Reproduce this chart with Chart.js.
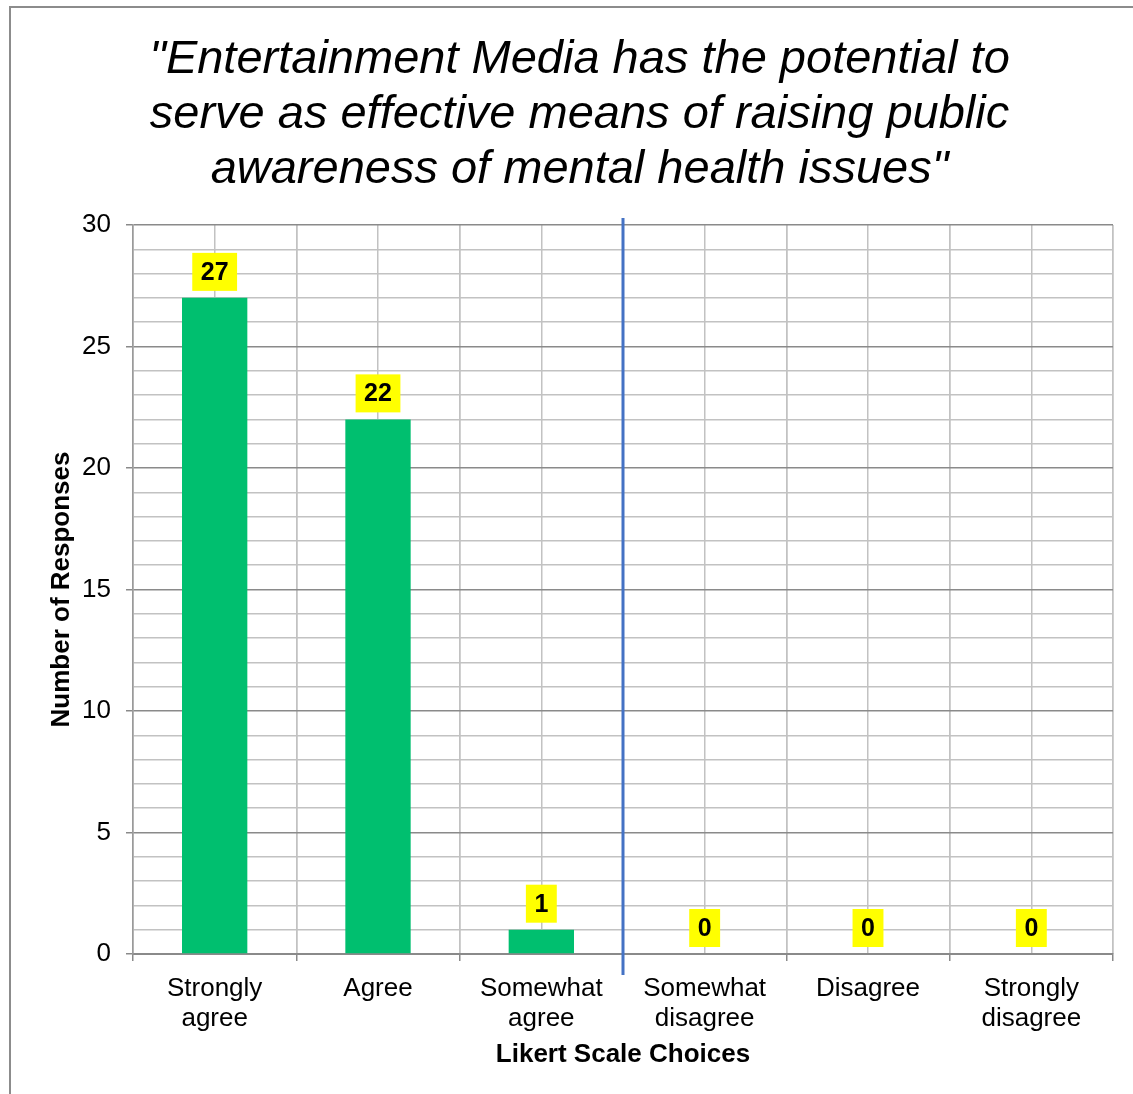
<!DOCTYPE html>
<html>
<head>
<meta charset="utf-8">
<script src="https://cdn.jsdelivr.net/npm/chart.js@4/dist/chart.umd.min.js"></script>
<style>
  html, body { margin: 0; padding: 0; background: #fff; overflow: hidden; }
  #frame { position: absolute; left: 9px; top: 6px; width: 1200px; height: 1200px; border: 2px solid #8c8c8c; box-sizing: border-box; }
  #wrap { position: absolute; left: 0; top: 0; width: 1133px; height: 1094px; }
</style>
</head>
<body>
<div id="frame"></div>
<div id="wrap"><canvas id="chart"></canvas></div>
<script>
'use strict';

const titleLines = ['"Entertainment Media has the potential to', 'serve as effective means of raising public', 'awareness of mental health issues"'];
const categories = [['Strongly', 'agree'], 'Agree', ['Somewhat', 'agree'], ['Somewhat', 'disagree'], 'Disagree', ['Strongly', 'disagree']];
const responses = [27, 22, 1, 0, 0, 0];
const yTicks = [0, 5, 10, 15, 20, 25, 30];

const FONT = '"Liberation Sans", Arial, sans-serif';
const MAJOR = '#8a8a8a';
const MINOR = '#c2c2c2';

// yellow value boxes above each bar
const valueBoxes = {
  id: 'valueBoxes',
  afterDatasetsDraw(chart) {
    const ctx = chart.ctx;
    const meta = chart.getDatasetMeta(0);
    ctx.save();
    ctx.font = 'bold 25px ' + FONT;
    ctx.textAlign = 'center';
    ctx.textBaseline = 'middle';
    meta.data.forEach((bar, i) => {
      const txt = String(responses[i]);
      const w = ctx.measureText(txt).width + 17;
      const h = 38;
      const bottom = bar.y - 7;
      ctx.fillStyle = '#ffff00';
      ctx.fillRect(bar.x - w / 2, bottom - h, w, h);
      ctx.fillStyle = '#000';
      ctx.fillText(txt, bar.x, bottom - h / 2 + 1);
    });
    ctx.restore();
  }
};

// blue divider between agree and disagree halves
const divider = {
  id: 'divider',
  afterDatasetsDraw(chart) {
    const xs = chart.scales.x;
    const area = chart.chartArea;
    const x = (xs.getPixelForValue(2) + xs.getPixelForValue(3)) / 2;
    const ctx = chart.ctx;
    ctx.save();
    ctx.strokeStyle = '#4472c4';
    ctx.lineWidth = 3;
    ctx.beginPath();
    ctx.moveTo(x, area.top - 7);
    ctx.lineTo(x, area.bottom + 21);
    ctx.stroke();
    ctx.restore();
  }
};

new Chart(document.getElementById('chart'), {
  type: 'bar',
  data: {
    labels: categories,
    datasets: [{
      data: responses,
      backgroundColor: '#00bf6f',
      barPercentage: 0.8,
      categoryPercentage: 0.5,
      xAxisID: 'x',
      yAxisID: 'y'
    }]
  },
  options: {
    responsive: true,
    maintainAspectRatio: false,
    animation: false,
    layout: { padding: { left: 46, right: 20, top: 0, bottom: 0 } },
    plugins: {
      legend: { display: false },
      tooltip: { enabled: false },
      title: {
        display: true,
        text: titleLines,
        color: '#000',
        font: { family: FONT, size: 47, style: 'italic', weight: 'normal', lineHeight: 1.17 },
        padding: { top: 32, bottom: 28 }
      }
    },
    scales: {
      x: {
        offset: true,
        grid: { offset: true, color: MINOR, lineWidth: 1.5, tickLength: 7, tickColor: MAJOR },
        border: { color: MAJOR, width: 2 },
        ticks: { color: '#000', font: { family: FONT, size: 26, lineHeight: 1.15 }, padding: 13, maxRotation: 0, autoSkip: false },
        title: { display: true, text: 'Likert Scale Choices', color: '#000', font: { family: FONT, size: 26, weight: 'bold' }, padding: { top: 0, bottom: 24 } },
        afterFit: s => { s.height = 140; }
      },
      xg: {
        type: 'linear',
        position: 'top',
        offset: false,
        min: -0.5,
        max: 5.5,
        grid: { offset: false, color: MINOR, lineWidth: 1.5, drawTicks: false },
        border: { display: false },
        ticks: { display: false, stepSize: 0.5 }
      },
      y: {
        min: 0,
        max: 30,
        grid: {
          color: c => (c.tick && c.tick.value % 5 === 0 ? MAJOR : MINOR),
          tickColor: c => (c.tick && c.tick.value % 5 === 0 ? MAJOR : 'rgba(0,0,0,0)'),
          lineWidth: 1.5,
          tickLength: 7
        },
        border: { color: '#9a9a9a', width: 1.5 },
        ticks: {
          stepSize: 1,
          autoSkip: false,
          padding: 15,
          color: '#000',
          font: { family: FONT, size: 26 },
          callback: v => (yTicks.includes(v) ? v : '')
        },
        title: { display: true, text: 'Number of Responses', color: '#000', font: { family: FONT, size: 26, weight: 'bold' }, padding: { top: 0, bottom: 0 } },
        afterFit: s => { s.width = 87; }
      }
    }
  },
  plugins: [valueBoxes, divider]
});
</script>
</body>
</html>
